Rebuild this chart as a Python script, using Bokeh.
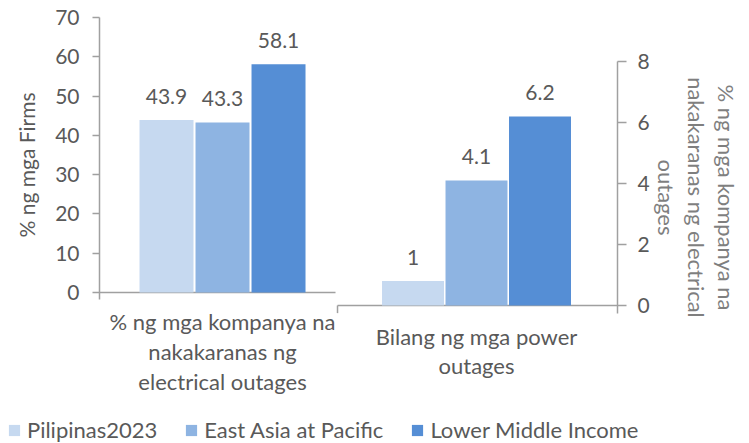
from bokeh.plotting import figure
from bokeh.layouts import column
from bokeh.models import (Range1d, LinearAxis, FixedTicker, ColumnDataSource,
                          LabelSet, Label, Legend, LegendItem, Title)
from bokeh.core.properties import value
from bokeh.embed import file_html
from bokeh.resources import INLINE

# ---- data ----
categories = ["% ng mga kompanya na\nnakakaranas ng\nelectrical outages",
              "Bilang ng mga power\noutages"]
series = ["Pilipinas2023", "East Asia at Pacific", "Lower Middle Income"]
firms_pct = [43.9, 43.3, 58.1]
firms_labels = ["43.9", "43.3", "58.1"]
outage_count = [0.8, 4.1, 6.2]
outage_labels = ["1", "4.1", "6.2"]
left_ticks = [0, 10, 20, 30, 40, 50, 60, 70]
right_ticks = [0, 2, 4, 6, 8]
left_title = "% ng mga Firms"
right_title = "% ng mga kompanya na\nnakakaranas ng electrical\noutages"
colors = ["#C6D9F0", "#8EB4E2", "#558ED5"]

FONT = "Lato"
FS = "21px"
FS_L = "22px"
TXT = "#595959"
AX = "#A0A0A0"

W = 749
H_MAIN, H_LEG = 394, 49
FR_L, FR_R = 99, 617

p = figure(width=W, height=H_MAIN, output_backend="svg", toolbar_location=None,
           x_range=Range1d(-0.4843, 1.5551), y_range=Range1d(-25.964, 74.327),
           x_axis_location=None, y_axis_location=None,
           min_border_left=FR_L, min_border_right=W - FR_R, min_border_top=0,
           min_border_bottom=0)
p.frame_align = False
p.extra_y_ranges = {"right": Range1d(-2.918, 10.0)}
p.grid.visible = False
p.outline_line_color = None
p.background_fill_color = None

# left axis
la = LinearAxis(ticker=FixedTicker(ticks=left_ticks), bounds=(-1.8, 70))
# right axis
ra = LinearAxis(y_range_name="right", ticker=FixedTicker(ticks=right_ticks), bounds=(-0.25, 8))
ra.axis_label = right_title
for ax, tick_out in ((la, 7), (ra, 9)):
    ax.major_tick_out = tick_out
    ax.major_tick_in = 0
    ax.minor_tick_line_color = None
    ax.axis_line_color = AX
    ax.axis_line_width = 1.5
    ax.major_tick_line_color = AX
    ax.major_tick_line_width = 1.5
    ax.major_label_text_font = FONT
    ax.major_label_text_font_size = FS
    ax.major_label_text_color = TXT
    ax.axis_label_text_font = FONT
    ax.axis_label_text_font_size = FS_L
    ax.axis_label_text_font_style = "normal"
la.major_label_standoff = 13
ra.major_label_standoff = 11
ra.axis_label_text_color = "#7F7F7F"
ra.axis_label_standoff = 0
ra.axis_label_text_line_height = 1.12
p.add_layout(la, "left")
p.add_layout(ra, "right")

# left axis title (placed along the axis, starting near the bottom of the value range)
lt = Title(text=left_title, align="left", offset=157, vertical_align="top",
           standoff=24, text_font=FONT, text_font_size=FS, text_font_style="normal",
           text_color=TXT)
p.add_layout(lt, "left")

# baselines of the two panels
left_end = 0.4449
right_start = 0.4528
p.segment(x0=[p.x_range.start], x1=[left_end], y0=[0], y1=[0], line_color=AX, line_width=1.5)
p.segment(x0=[right_start, right_start], x1=[p.x_range.end, right_start], y0=[0, 0], y1=[0, -0.25],
          line_color=AX, line_width=1.5, y_range_name="right")

# bars
left_step, left_w = 0.2205, 0.2126
right_step, right_w = 0.25, 0.244
lx, rx = [], []
for i, s in enumerate(series):
    xl = 0 + (i - 1) * left_step
    xr = 1 + (i - 1) * right_step
    lx.append(xl)
    rx.append(xr)
    p.vbar(x=[xl], top=[firms_pct[i]], bottom=0, width=left_w,
           fill_color=colors[i], line_color=None)
    p.vbar(x=[xr], top=[outage_count[i]], bottom=0, width=right_w,
           fill_color=colors[i], line_color=None, y_range_name="right")

# data labels
src_l = ColumnDataSource(dict(x=lx, y=firms_pct, t=firms_labels))
src_r = ColumnDataSource(dict(x=rx, y=outage_count, t=outage_labels))
for src, rn in ((src_l, "default"), (src_r, "right")):
    ls = LabelSet(x="x", y="y", text="t", source=src, y_range_name=rn,
                  text_align="center", text_baseline="middle", y_offset=24,
                  text_font=value(FONT), text_font_size=value(FS), text_color=TXT)
    p.add_layout(ls)

# category labels
for xi, (cat, rn, off) in enumerate(zip(categories, ["default", "right"], [-16, -17])):
    lab = Label(x=xi, y=0, text=cat, y_range_name=rn, y_offset=off,
                text_align="center", text_baseline="top", text_font=FONT,
                text_font_size=FS_L, text_color=TXT, text_line_height=1.1)
    p.add_layout(lab)

# legend strip
q = figure(width=W, height=H_LEG, output_backend="svg", toolbar_location=None,
           x_range=Range1d(0, 1), y_range=Range1d(0, 1),
           x_axis_location=None, y_axis_location=None,
           min_border_left=0, min_border_right=0, min_border_top=0, min_border_bottom=0)
q.frame_align = False
q.grid.visible = False
q.outline_line_color = None
items = []
for i, s in enumerate(series):
    r = q.vbar(x=[0.5], top=[0], bottom=0, width=0.1, fill_color=colors[i], line_color=None)
    items.append(LegendItem(label=s, renderers=[r]))
legend = Legend(items=items, orientation="horizontal", location=(7, 0),
                glyph_width=14, glyph_height=14, label_standoff=6, spacing=27,
                padding=0, margin=0, border_line_color=None, background_fill_alpha=0,
                label_text_font=FONT, label_text_font_size=FS_L, label_text_color=TXT)
q.add_layout(legend, "center")

layout = column(p, q, spacing=0)
open("out.html", "w").write(file_html(layout, INLINE))
